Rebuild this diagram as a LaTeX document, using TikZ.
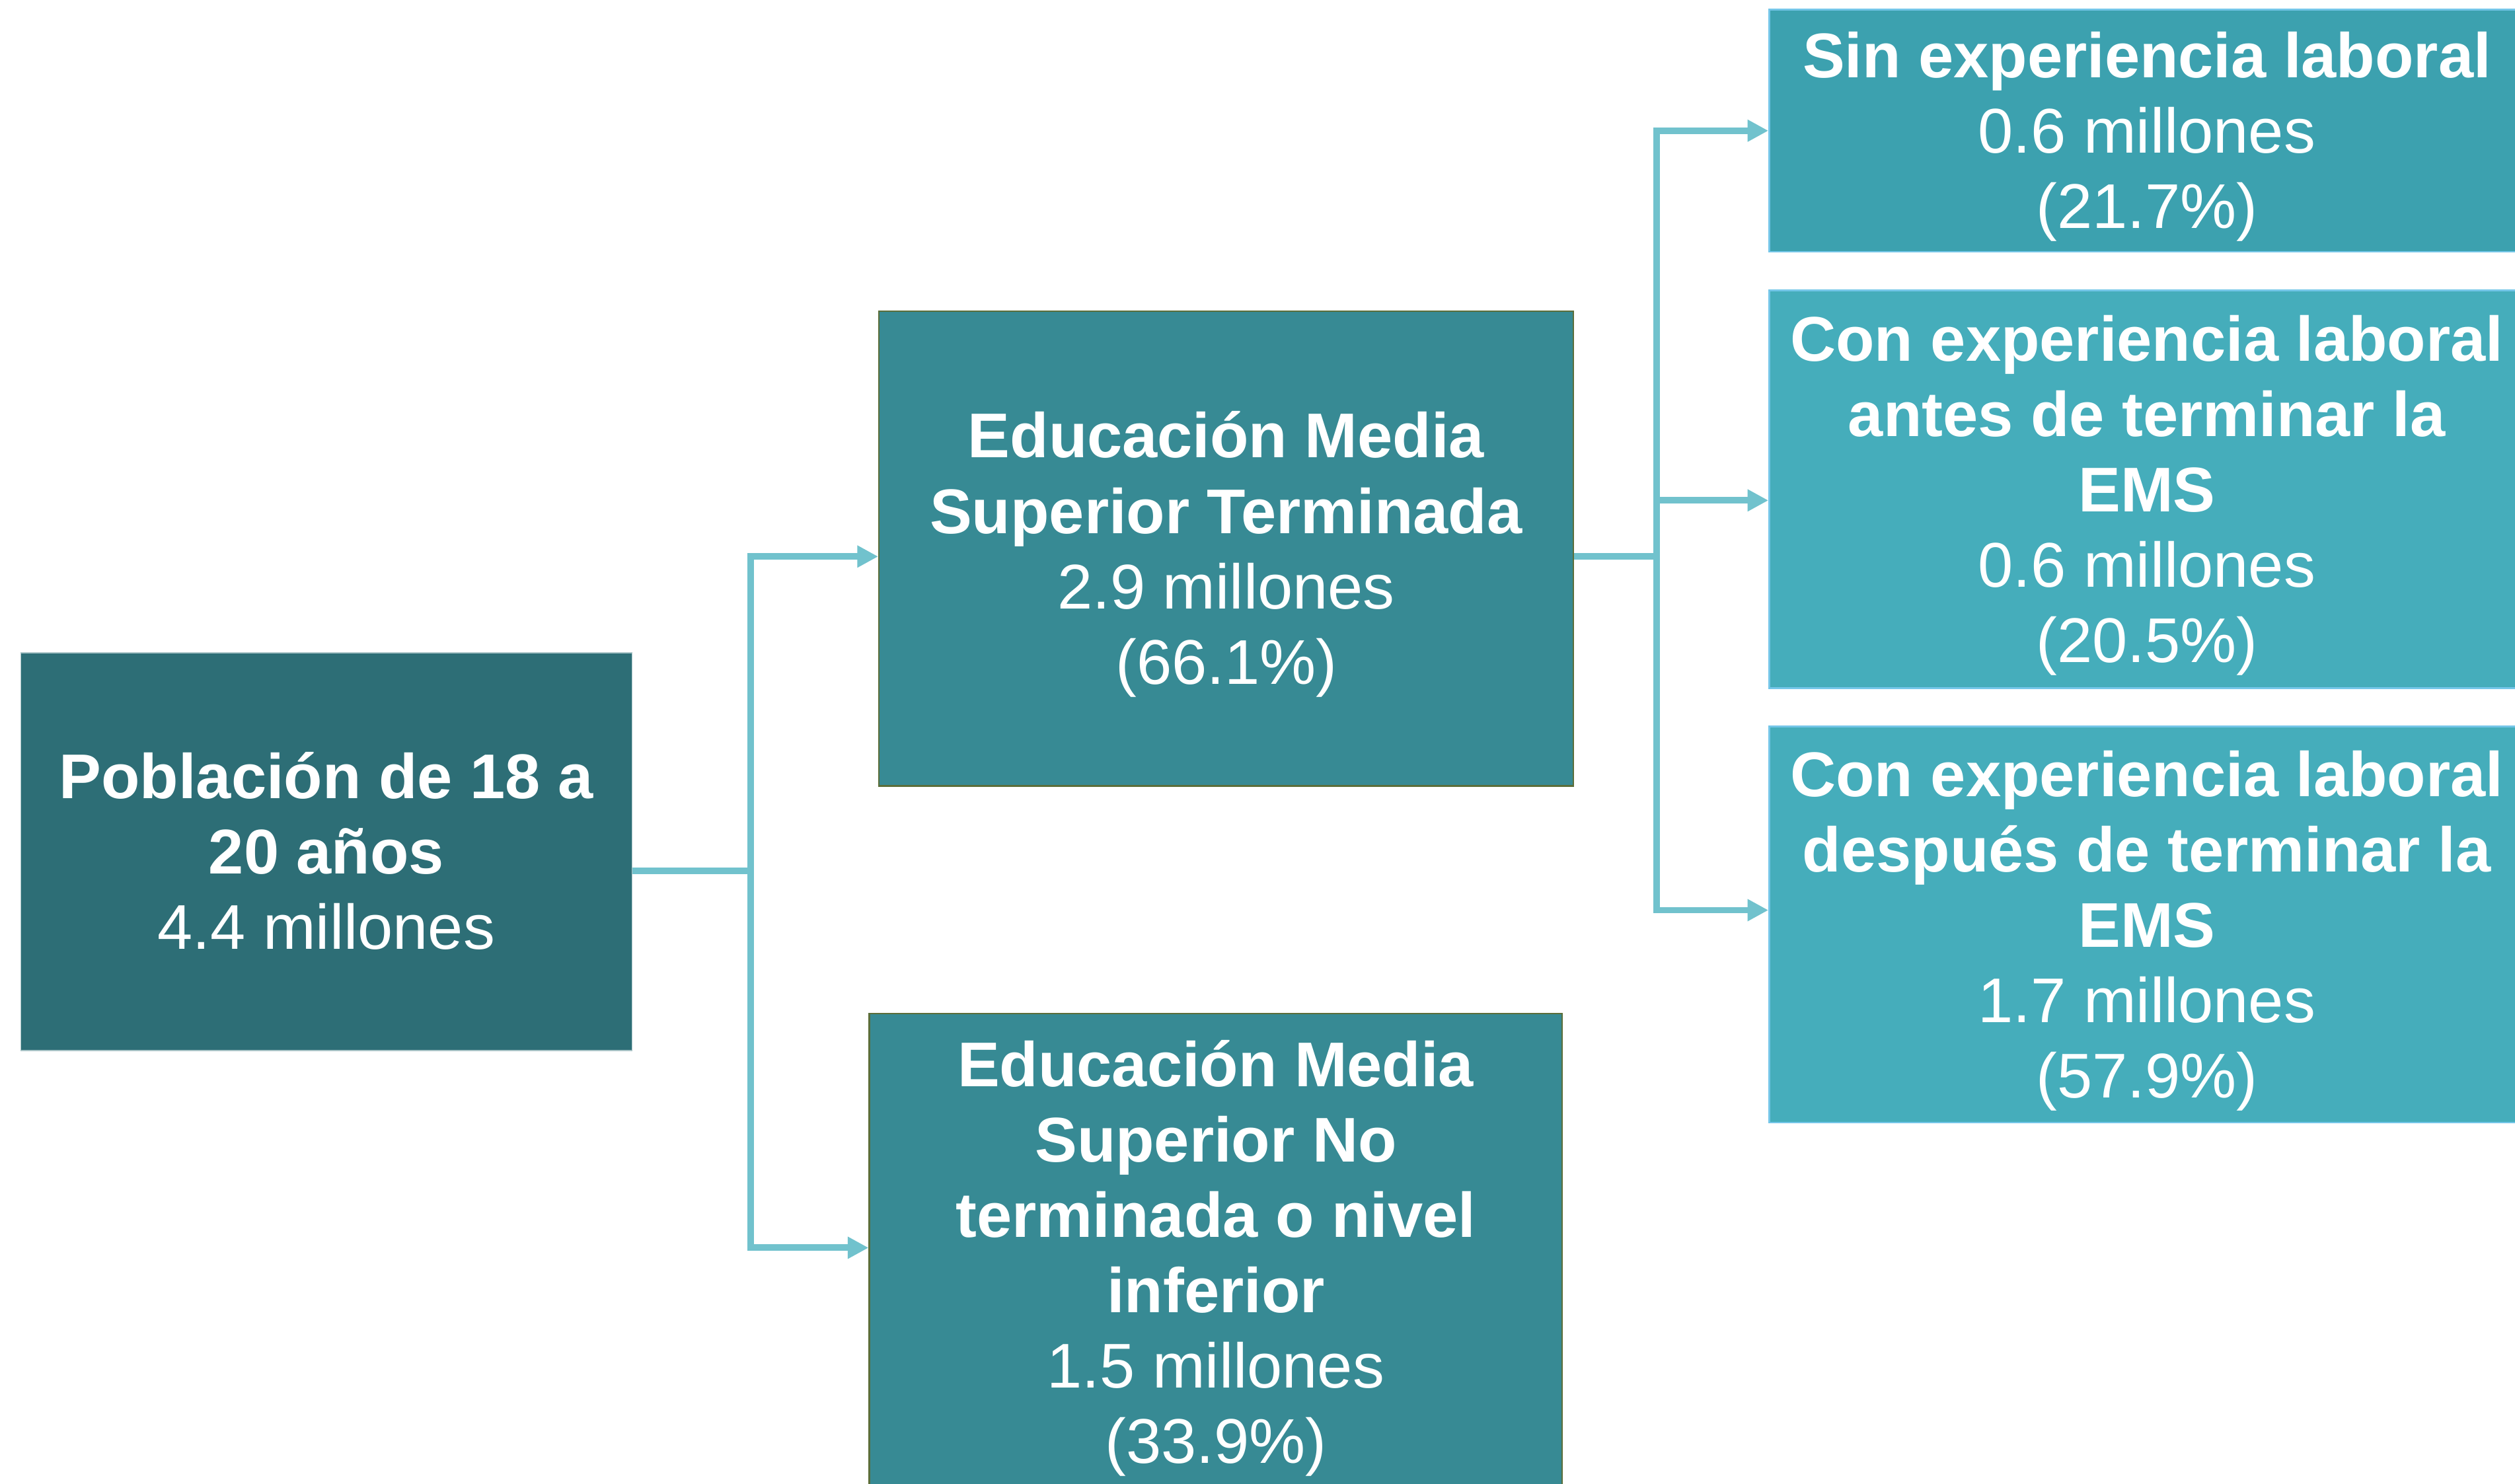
\documentclass[tikz,border=0pt]{standalone}
\usepackage{fontspec}
\setmainfont{Liberation Sans}
\usetikzlibrary{arrows.meta}
\definecolor{pobfill}{HTML}{2D6E76}
\definecolor{emsfill}{HTML}{378A94}
\definecolor{emsline}{HTML}{5B6E3A}
\definecolor{sinfill}{HTML}{3CA1AF}
\definecolor{confill}{HTML}{45ADBB}
\definecolor{conline}{HTML}{74C6E8}
\definecolor{link}{HTML}{71C2CD}
\newcommand{\topgap}{\rule{0pt}{42pt}}
\newcommand{\botgap}{\rule[-14pt]{0pt}{14pt}}
\begin{document}
\begin{tikzpicture}[x=1pt,y=-1pt,
        box/.style={inner sep=0pt,align=center,text=white,
            font=\fontsize{39.4}{47}\selectfont},
        link/.style={draw=link,line width=4.1pt},
        go/.style={link,-{Triangle[length=13pt,width=13pt]}}]
        \useasboundingbox[fill=white] (0,0) rectangle (1568,925);
        \node[box,fill=pobfill,draw=pobfill!40!white,line width=0.6pt,minimum width=381pt,minimum height=248pt] (pob) at (203.5,531)
            {\topgap\textbf{Población de 18 a}\\\textbf{20 años}\\4.4 millones\botgap};
        \node[box,fill=emsfill,draw=emsline,line width=1pt,minimum width=433pt,minimum height=296pt] (emsT) at (764.5,342)
            {\topgap\textbf{Educación Media}\\\textbf{Superior Terminada}\\2.9 millones\\(66.1\%)\botgap};
        \node[box,fill=emsfill,draw=emsline,line width=1pt,minimum width=432pt,minimum height=298pt] (emsN) at (758,781)
            {\topgap\textbf{Educación Media}\\\textbf{Superior No}\\\textbf{terminada o nivel}\\\textbf{inferior}\\1.5 millones\\(33.9\%)\botgap};
        \node[box,fill=sinfill,draw=conline,line width=1pt,minimum width=471pt,minimum height=151pt] (sin) at (1338.5,81.5)
            {\topgap\textbf{Sin experiencia laboral}\\0.6 millones\\(21.7\%)\botgap};
        \node[box,fill=confill,draw=conline,line width=1pt,minimum width=471pt,minimum height=248pt] (antes) at (1338.5,305)
            {\topgap\textbf{Con experiencia laboral}\\\textbf{antes de terminar la}\\\textbf{EMS}\\0.6 millones\\(20.5\%)\botgap};
        \node[box,fill=confill,draw=conline,line width=1pt,minimum width=471pt,minimum height=247pt] (desp) at (1338.5,576.5)
            {\topgap\textbf{Con experiencia laboral}\\\textbf{después de terminar la}\\\textbf{EMS}\\1.7 millones\\(57.9\%)\botgap};
        % connectors
        \coordinate (j1) at (468,543);
        \coordinate (j2) at (1033,347);
        \draw[link] (pob.east |- j1) -- (j1);
        \draw[go] (j1) |- ([yshift=-5pt]emsT.west);
        \draw[go] (j1) |- ([yshift=3pt]emsN.west);
        \draw[link] (emsT.east |- j2) -- (j2);
        \draw[go] (j2) |- (sin.west);
        \draw[go] (j2) |- ([yshift=-7pt]antes.west);
        \draw[go] (j2) |- ([yshift=9pt]desp.west);
\end{tikzpicture}
\end{document}
